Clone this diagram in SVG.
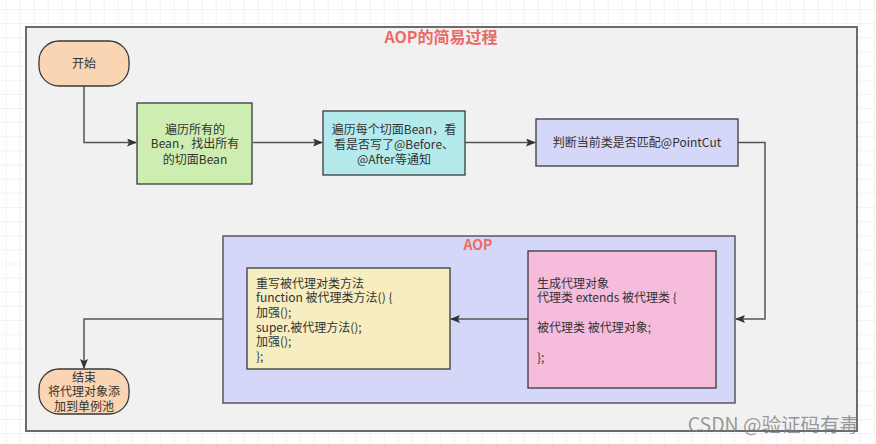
<svg xmlns="http://www.w3.org/2000/svg" width="876" height="444" viewBox="0 0 876 444">
<defs>
<pattern id="grid" x="5.7" y="9" width="14" height="14.14" patternUnits="userSpaceOnUse">
<path d="M0 0H14M0 0V14.14" fill="none" stroke="#e6e6e6" stroke-width="1"/>
</pattern>
<marker id="arr" markerWidth="10" markerHeight="8" refX="9" refY="4" orient="auto" markerUnits="userSpaceOnUse">
<path d="M0 0L10 4L0 8L2 4Z" fill="#333"/>
</marker>
<style>
.t{font-family:"Noto Sans CJK SC","Microsoft YaHei",sans-serif;font-size:12px;fill:#333}
.c{text-anchor:middle}
.box{stroke:#36393d;stroke-width:1.3}
.ln{fill:none;stroke:#555;stroke-width:1.5}
.red{font-family:"Noto Sans CJK SC",sans-serif;font-weight:bold;fill:#ea6b66}
</style>
</defs>
<rect width="876" height="444" fill="#fff"/>
<rect width="876" height="444" fill="url(#grid)"/>
<g id="frame">
<rect x="26" y="27" width="831" height="404" fill="#f1f1f1" stroke="#6b6b6b" stroke-width="2"/>
<text class="red c" x="441" y="42.5" font-size="16">AOP的简易过程</text>
</g>
<g id="aop">
<rect x="223" y="236" width="512" height="167" fill="#d4d7f7" stroke="#55585e" stroke-width="1.5"/>
<text class="red c" x="478" y="250" font-size="14">AOP</text>
</g>
<g id="connectors">
<path class="ln" d="M84 86V142.5H136" marker-end="url(#arr)"/>
<path class="ln" d="M253 142.5H322" marker-end="url(#arr)"/>
<path class="ln" d="M465 142.5H535" marker-end="url(#arr)"/>
<path class="ln" d="M738 142.5H765V319H736" marker-end="url(#arr)"/>
<path class="ln" d="M528 319H451" marker-end="url(#arr)"/>
<path class="ln" d="M223 319H84V368" marker-end="url(#arr)"/>
</g>
<g id="start">
<rect class="box" x="39" y="41" width="90" height="45" rx="20" fill="#f9d5b4"/>
<text class="t c" x="84" y="67.5">开始</text>
</g>
<g id="n1">
<rect class="box" x="137" y="103" width="115" height="81" fill="#cdeeb0"/>
<text class="t c" x="195" y="133.5">遍历所有的</text>
<text class="t c" x="195" y="148">Bean，找出所有</text>
<text class="t c" x="195" y="163.5">的切面Bean</text>
</g>
<g id="n2">
<rect class="box" x="323" y="111" width="142" height="64" fill="#b5eaec"/>
<text class="t c" x="394" y="133.5">遍历每个切面Bean，看</text>
<text class="t c" x="394" y="149">看是否写了@Before、</text>
<text class="t c" x="394" y="163.5">@After等通知</text>
</g>
<g id="n3">
<rect class="box" x="536" y="119" width="202" height="47" fill="#d4d7f7"/>
<text class="t c" x="637" y="147">判断当前类是否匹配@PointCut</text>
</g>
<g id="n4">
<rect class="box" x="528" y="251" width="188" height="137" fill="#f6bcdc"/>
<text class="t" x="537" y="287.5">生成代理对象</text>
<text class="t" x="537" y="302">代理类 extends 被代理类 {</text>
<text class="t" x="537" y="331.5">被代理类 被代理对象;</text>
<text class="t" x="537" y="361.5">};</text>
</g>
<g id="n5">
<rect class="box" x="247" y="268" width="203" height="101" fill="#f6edc0"/>
<text class="t" x="256" y="287.5">重写被代理对类方法</text>
<text class="t" x="256" y="302">function 被代理类方法() {</text>
<text class="t" x="256" y="316.5">加强();</text>
<text class="t" x="256" y="331.5">super.被代理方法();</text>
<text class="t" x="256" y="346">加强();</text>
<text class="t" x="256" y="360.5">};</text>
</g>
<g id="end">
<rect class="box" x="39" y="369" width="90" height="45" rx="20" fill="#f9d5b4"/>
<text class="t c" x="84" y="381.5">结束</text>
<text class="t c" x="84" y="396">将代理对象添</text>
<text class="t c" x="84" y="411">加到单例池</text>
</g>
<text x="859" y="431.5" text-anchor="end" font-family="Noto Sans CJK SC, sans-serif" font-size="19.5" fill="#7a7a7a" fill-opacity="0.75">CSDN @验证码有毒</text>
</svg>
